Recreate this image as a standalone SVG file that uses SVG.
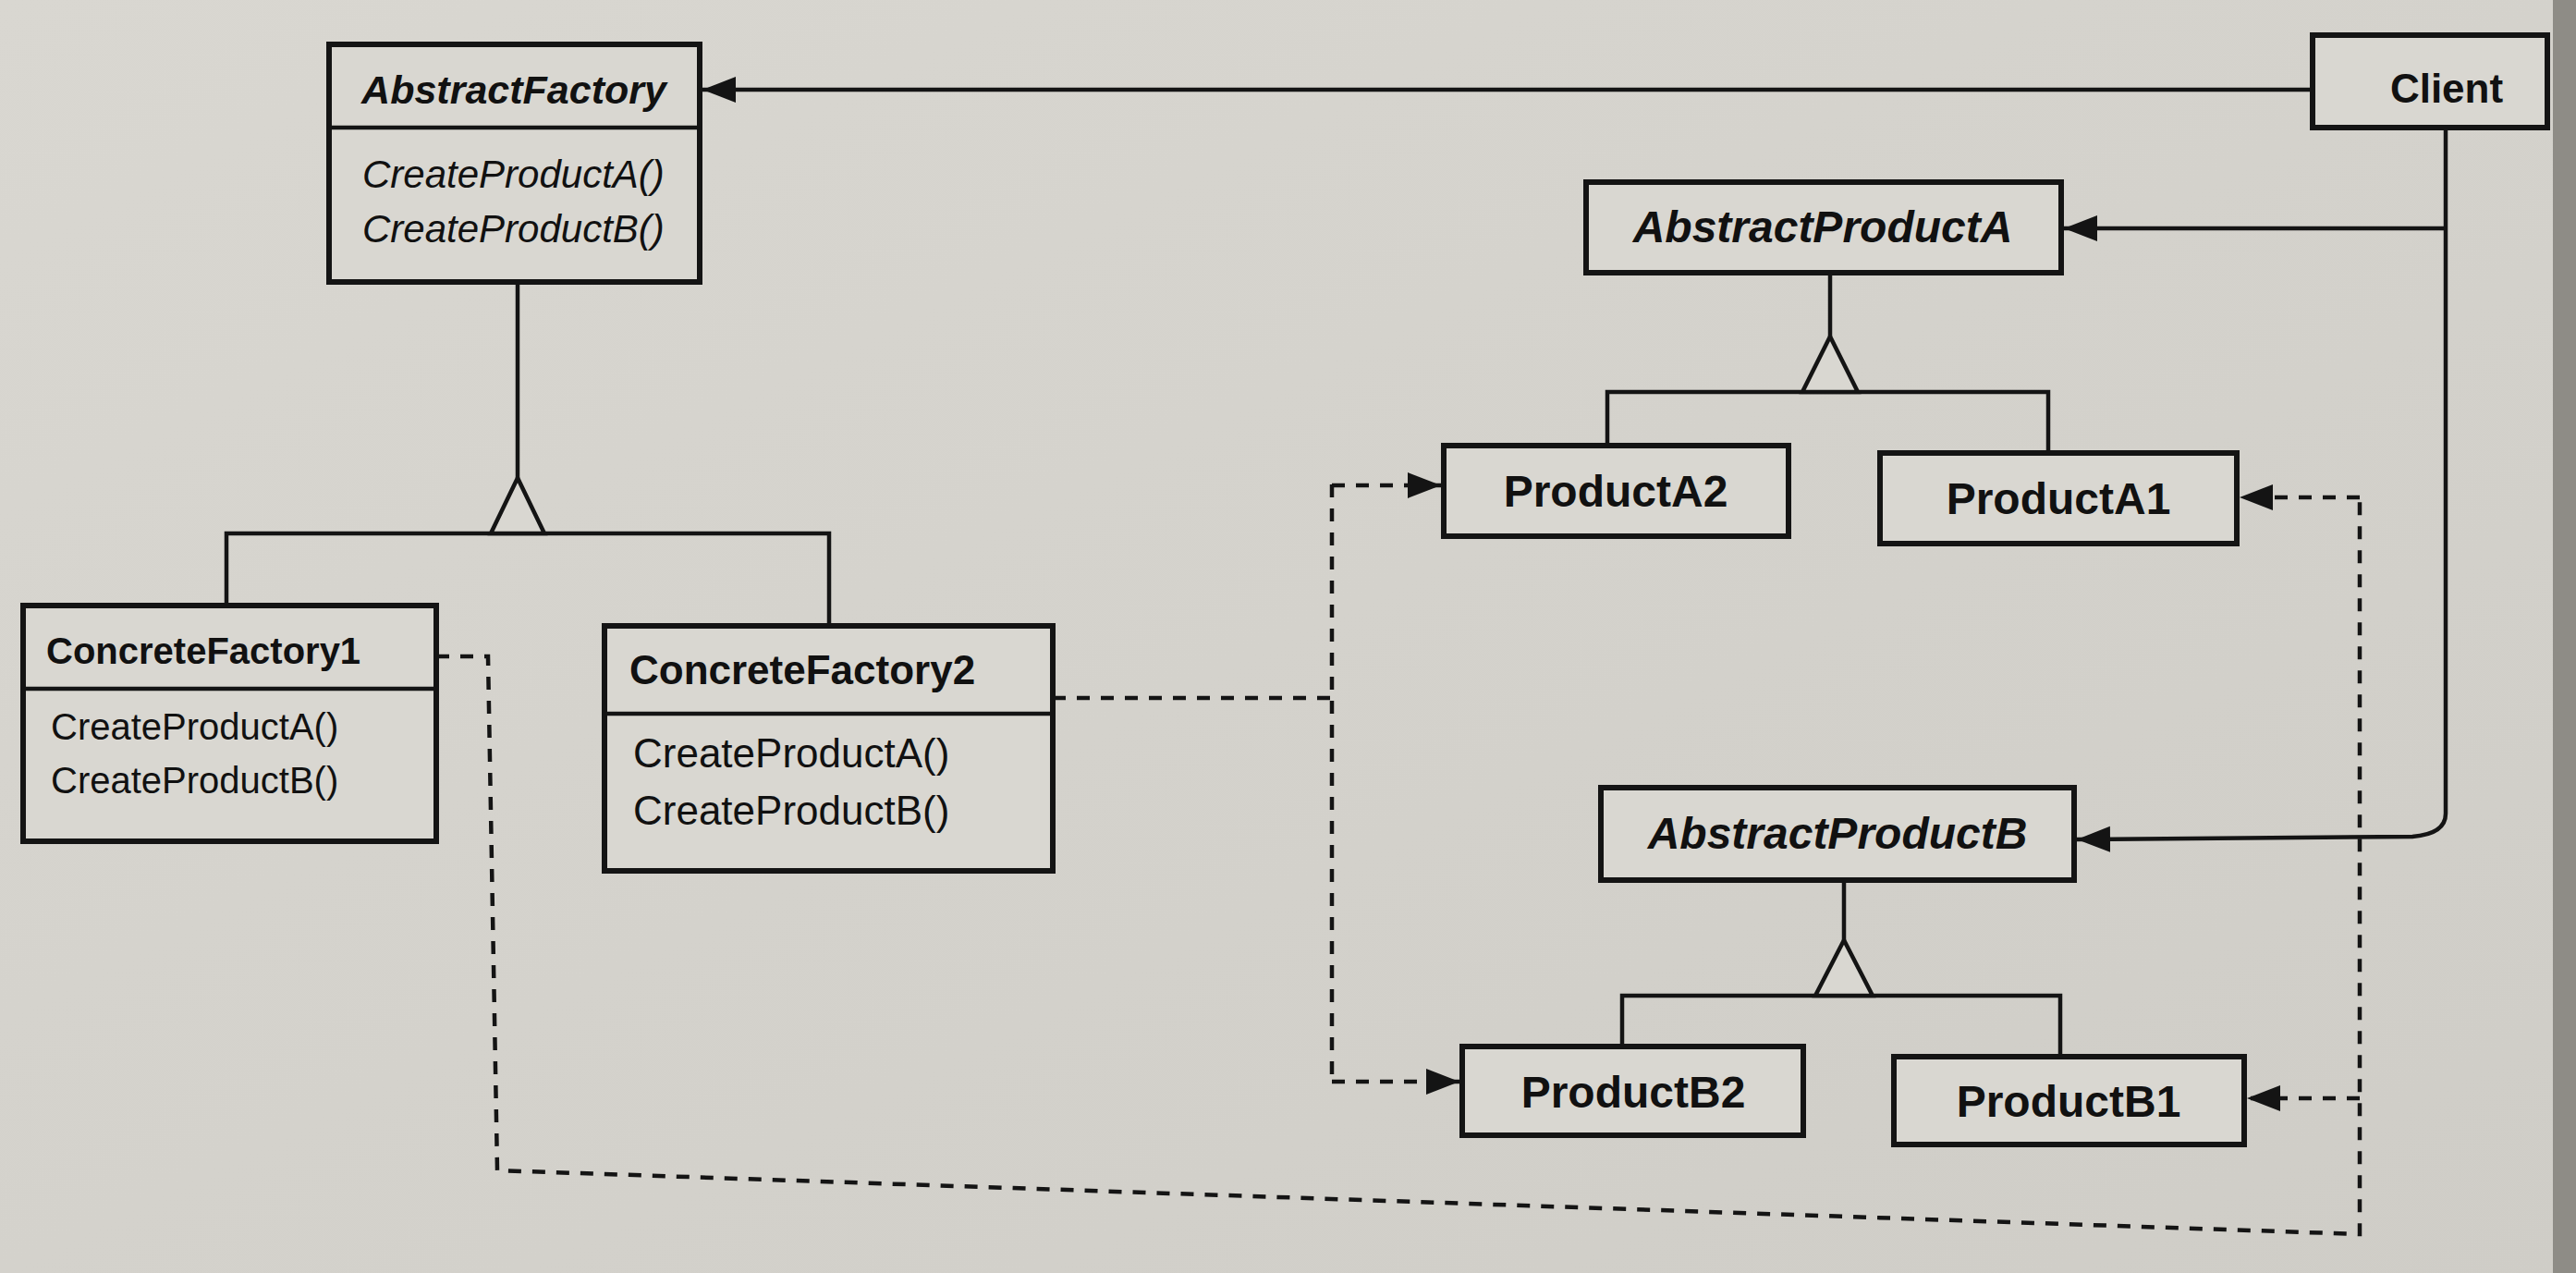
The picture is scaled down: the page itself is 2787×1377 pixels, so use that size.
<svg xmlns="http://www.w3.org/2000/svg" width="2787" height="1377" viewBox="0 0 2787 1377">
<defs>
<style>
.box{fill:#d9d7d1;stroke:#141414;stroke-width:6}
.ln{fill:none;stroke:#141414;stroke-width:4.5}
.gen{fill:#d9d7d1;stroke:#141414;stroke-width:4.5;stroke-linejoin:miter}
.dash{fill:none;stroke:#141414;stroke-width:4.5;stroke-dasharray:14 12}
text{font-family:"Liberation Sans",Arial,Helvetica,sans-serif;fill:#111}
.hb{font-weight:bold}
.hbi{font-weight:bold;font-style:italic}
.mi{font-style:italic}
</style>
<linearGradient id="bg" x1="0" y1="0" x2="1" y2="1">
<stop offset="0" stop-color="#d9d7d1"/>
<stop offset="1" stop-color="#cfcdc7"/>
</linearGradient>
<marker id="arr" markerUnits="userSpaceOnUse" markerWidth="38" markerHeight="30" viewBox="0 0 38 30" refX="36" refY="15" orient="auto">
<path d="M0,1 L36,15 L0,29 z" fill="#141414"/>
</marker>
</defs>
<rect x="0" y="0" width="2787" height="1377" fill="url(#bg)"/>
<rect x="2762" y="0" width="25" height="1377" fill="#8e8c86"/>

<g id="connectors">
<line class="ln" x1="2502" y1="97" x2="760" y2="97" marker-end="url(#arr)"/>
<path class="ln" d="M2646,138 L2646,880 Q2646,902 2610,905 L2247,908" marker-end="url(#arr)"/>
<line class="ln" x1="2646" y1="247" x2="2233" y2="247" marker-end="url(#arr)"/>
<line class="ln" x1="560" y1="305" x2="560" y2="517"/>
<polyline class="ln" points="245,655 245,577 897,577 897,677"/>
<path class="gen" d="M560,517 L531,577 L589,577 z"/>
<line class="ln" x1="1980" y1="295" x2="1980" y2="364"/>
<polyline class="ln" points="1739,482 1739,424 2216,424 2216,490"/>
<path class="gen" d="M1980,364 L1950,424 L2010,424 z"/>
<line class="ln" x1="1995" y1="952" x2="1995" y2="1017"/>
<polyline class="ln" points="1755,1132 1755,1077 2229,1077 2229,1143"/>
<path class="gen" d="M1995,1017 L1964,1077 L2026,1077 z"/>
<line class="dash" x1="1139" y1="755" x2="1441" y2="755"/>
<line class="dash" x1="1441" y1="524" x2="1441" y2="1170"/>
<line class="dash" x1="1441" y1="525" x2="1559" y2="525" marker-end="url(#arr)"/>
<line class="dash" x1="1441" y1="1170" x2="1579" y2="1170" marker-end="url(#arr)"/>
<polyline class="dash" points="472,710 528,710 538,1266 2553,1335 2553,538"/>
<line class="dash" x1="2553" y1="538" x2="2423" y2="538" marker-end="url(#arr)"/>
<line class="dash" x1="2553" y1="1188" x2="2431" y2="1188" marker-end="url(#arr)"/>
</g>

<g id="AbstractFactory">
<rect class="box" x="356" y="48" width="401" height="257"/>
<line class="ln" x1="356" y1="138" x2="757" y2="138"/>
<text class="hbi" x="556" y="112" font-size="43" text-anchor="middle">AbstractFactory</text>
<text class="mi" x="392" y="203" font-size="42">CreateProductA()</text>
<text class="mi" x="392" y="262" font-size="42">CreateProductB()</text>
</g>

<g id="ConcreteFactory1">
<rect class="box" x="25" y="655" width="447" height="255"/>
<line class="ln" x1="25" y1="745" x2="472" y2="745"/>
<text class="hb" x="50" y="718" font-size="40">ConcreteFactory1</text>
<text x="55" y="800" font-size="40">CreateProductA()</text>
<text x="55" y="858" font-size="40">CreateProductB()</text>
</g>

<g id="ConcreteFactory2">
<rect class="box" x="654" y="677" width="485" height="265"/>
<line class="ln" x1="654" y1="772" x2="1139" y2="772"/>
<text class="hb" x="681" y="740" font-size="44">ConcreteFactory2</text>
<text x="685" y="830" font-size="44">CreateProductA()</text>
<text x="685" y="892" font-size="44">CreateProductB()</text>
</g>

<g id="Client">
<rect class="box" x="2502" y="38" width="254" height="100"/>
<text class="hb" x="2647" y="111" font-size="44" text-anchor="middle">Client</text>
</g>

<g id="AbstractProductA">
<rect class="box" x="1716" y="197" width="514" height="98"/>
<text class="hbi" x="1972" y="262" font-size="48" text-anchor="middle">AbstractProductA</text>
</g>

<g id="ProductA2">
<rect class="box" x="1562" y="482" width="373" height="98"/>
<text class="hb" x="1748" y="548" font-size="48" text-anchor="middle">ProductA2</text>
</g>

<g id="ProductA1">
<rect class="box" x="2034" y="490" width="386" height="98"/>
<text class="hb" x="2227" y="556" font-size="48" text-anchor="middle">ProductA1</text>
</g>

<g id="AbstractProductB">
<rect class="box" x="1732" y="852" width="512" height="100"/>
<text class="hbi" x="1988" y="918" font-size="48" text-anchor="middle">AbstractProductB</text>
</g>

<g id="ProductB2">
<rect class="box" x="1582" y="1132" width="369" height="96"/>
<text class="hb" x="1767" y="1198" font-size="48" text-anchor="middle">ProductB2</text>
</g>

<g id="ProductB1">
<rect class="box" x="2049" y="1143" width="379" height="95"/>
<text class="hb" x="2238" y="1208" font-size="48" text-anchor="middle">ProductB1</text>
</g>
</svg>
